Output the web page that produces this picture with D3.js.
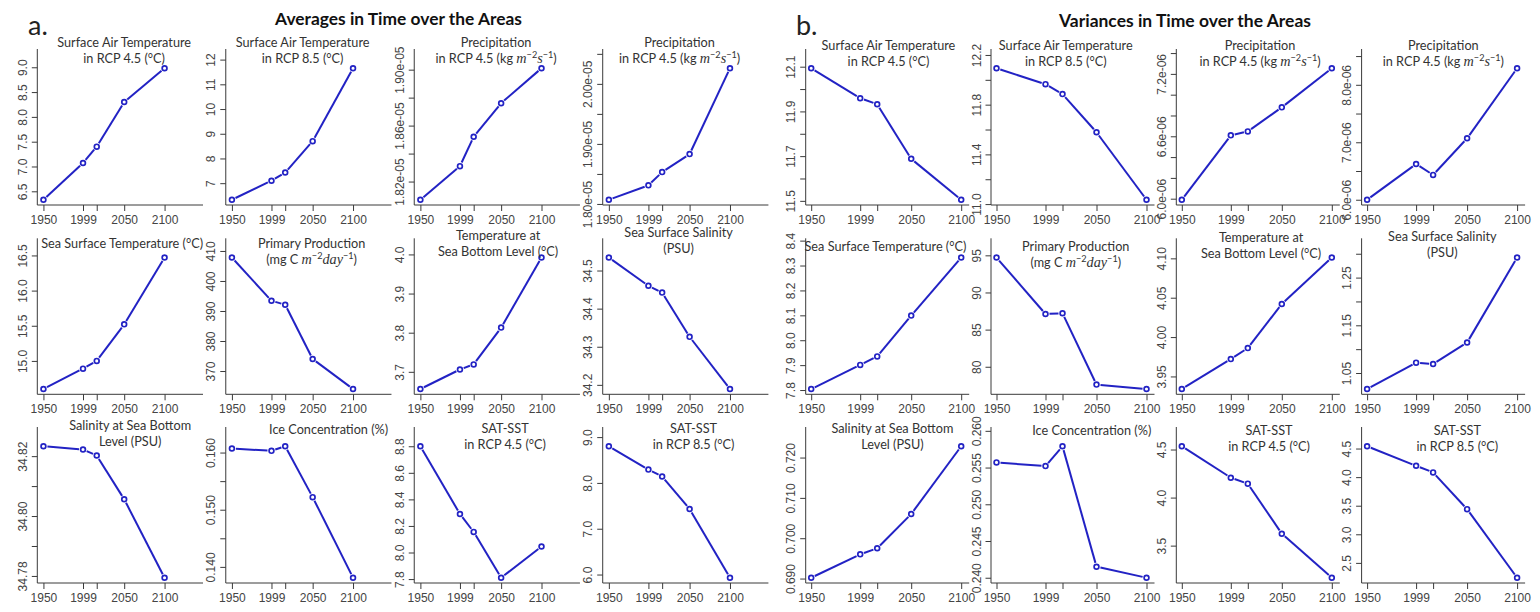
<!DOCTYPE html>
<html>
<head>
<meta charset="utf-8">
<script src="https://cdn.jsdelivr.net/npm/d3@7"></script>
<style>
  body { margin: 0; background: #fff; }
  svg { display: block; }
</style>
</head>
<body>
<svg id="fig" width="1540" height="612"></svg>
<script>
// ---- data ----
const years = [1950, 1999, 2016, 2050, 2100]
const yearLabels = ['1950', '1999', '', '2050', '2100']

const headers = ['Averages in Time over the Areas', 'Variances in Time over the Areas']
const panelLetters = ['a.', 'b.']

// $..$ = math italic, ^{..} = superscript
const panelTitles = [
  ['Surface Air Temperature', 'in RCP 4.5 (°C)'],
  ['Surface Air Temperature', 'in RCP 8.5 (°C)'],
  ['Precipitation', 'in RCP 4.5 (kg $m$^{−2}$s$^{−1})'],
  ['Precipitation', 'in RCP 4.5 (kg $m$^{−2}$s$^{−1})'],
  ['Sea Surface Temperature (°C)'],
  ['Primary Production', '(mg C $m$^{−2}$day$^{−1})'],
  ['Temperature at', 'Sea Bottom Level (°C)'],
  ['Sea Surface Salinity', '(PSU)'],
  ['Salinity at Sea Bottom', 'Level (PSU)'],
  ['Ice Concentration (%)'],
  ['SAT-SST', 'in RCP 4.5 (°C)'],
  ['SAT-SST', 'in RCP 8.5 (°C)']
]

const avgValues = [
  [6.33, 7.07, 7.40, 8.30, 8.98],
  [6.33, 7.10, 7.43, 8.70, 11.65],
  [1.807e-5, 1.831e-5, 1.852e-5, 1.876e-5, 1.901e-5],
  [1.807e-5, 1.831e-5, 1.853e-5, 1.883e-5, 2.026e-5],
  [14.60, 14.89, 15.00, 15.52, 16.47],
  [407.8, 393.4, 392.1, 374.0, 364.0],
  [3.656, 3.706, 3.719, 3.813, 3.992],
  [34.534, 34.460, 34.442, 34.326, 34.189],
  [34.8233, 34.8222, 34.8202, 34.8056, 34.7794],
  [0.1607, 0.1603, 0.1611, 0.1522, 0.1381],
  [8.80, 8.29, 8.155, 7.81, 8.045],
  [8.80, 8.29, 8.14, 7.43, 5.93]
]

const avgTicks = [
  [6.5, 7, 7.5, 8, 8.5, 9],
  [7, 8, 9, 10, 11, 12],
  [1.82e-5, 1.84e-5, 1.86e-5, 1.88e-5, 1.90e-5],
  [1.80e-5, 1.85e-5, 1.90e-5, 1.95e-5, 2.00e-5, 2.05e-5],
  [15, 15.5, 16, 16.5],
  [370, 380, 390, 400, 410],
  [3.7, 3.8, 3.9, 4.0],
  [34.2, 34.3, 34.4, 34.5],
  [34.78, 34.79, 34.80, 34.81, 34.82],
  [0.140, 0.145, 0.150, 0.155, 0.160],
  [7.8, 8.0, 8.2, 8.4, 8.6, 8.8],
  [6, 7, 8, 9]
]

const avgTickLabels = [
  ['6.5', '7.0', '7.5', '8.0', '8.5', '9.0'],
  ['7', '8', '9', '10', '11', '12'],
  ['1.82e-05', '', '1.86e-05', '', '1.90e-05'],
  ['1.80e-05', '', '1.90e-05', '', '2.00e-05', ''],
  ['15.0', '15.5', '16.0', '16.5'],
  ['370', '380', '390', '400', '410'],
  ['3.7', '3.8', '3.9', '4.0'],
  ['34.2', '34.3', '34.4', '34.5'],
  ['34.78', '', '34.80', '', '34.82'],
  ['0.140', '', '0.150', '', '0.160'],
  ['7.8', '8.0', '8.2', '8.4', '8.6', '8.8'],
  ['6.0', '7.0', '8.0', '9.0']
]

const varValues = [
  [12.093, 11.959, 11.932, 11.688, 11.505],
  [12.093, 11.965, 11.885, 11.578, 11.035],
  [5.99e-6, 6.609e-6, 6.647e-6, 6.878e-6, 7.254e-6],
  [6.0e-6, 6.622e-6, 6.432e-6, 7.069e-6, 8.288e-6],
  [7.804, 7.901, 7.935, 8.099, 8.332],
  [94.7, 87.1, 87.2, 77.6, 77.0],
  [3.934, 3.972, 3.986, 4.042, 4.101],
  [1.0164, 1.0717, 1.069, 1.1138, 1.292],
  [0.6902, 0.6960, 0.6975, 0.7060, 0.7228],
  [0.2557, 0.2552, 0.2579, 0.2415, 0.2400],
  [4.534, 4.207, 4.145, 3.624, 3.166],
  [4.54, 4.198, 4.083, 3.44, 2.24]
]

const varTicks = [
  [11.5, 11.6, 11.7, 11.8, 11.9, 12.0, 12.1],
  [11.0, 11.2, 11.4, 11.6, 11.8, 12.0, 12.2],
  [6.0e-6, 6.2e-6, 6.4e-6, 6.6e-6, 6.8e-6, 7.0e-6, 7.2e-6, 7.4e-6],
  [6.0e-6, 6.5e-6, 7.0e-6, 7.5e-6, 8.0e-6, 8.5e-6],
  [7.8, 7.9, 8.0, 8.1, 8.2, 8.3, 8.4],
  [80, 85, 90, 95],
  [3.95, 4.00, 4.05, 4.10],
  [1.05, 1.10, 1.15, 1.20, 1.25, 1.30],
  [0.690, 0.700, 0.710, 0.720],
  [0.240, 0.245, 0.250, 0.255, 0.260],
  [3.5, 4.0, 4.5],
  [2.5, 3.0, 3.5, 4.0, 4.5]
]

const varTickLabels = [
  ['11.5', '', '11.7', '', '11.9', '', '12.1'],
  ['11.0', '', '11.4', '', '11.8', '', '12.2'],
  ['6.0e-06', '', '', '6.6e-06', '', '', '7.2e-06', ''],
  ['6.0e-06', '', '7.0e-06', '', '8.0e-06', ''],
  ['7.8', '7.9', '8.0', '8.1', '8.2', '8.3', '8.4'],
  ['80', '85', '90', '95'],
  ['3.95', '4.00', '4.05', '4.10'],
  ['1.05', '', '1.15', '', '1.25', ''],
  ['0.690', '0.700', '0.710', '0.720'],
  ['0.240', '0.245', '0.250', '0.255', '0.260'],
  ['3.5', '4.0', '4.5'],
  ['2.5', '3.0', '3.5', '4.0', '4.5']
]

// ---- layout ----
const rowTop = [49, 238.3, 427]
const plotH = 156
const topExt = 14          // axis line runs this far above the padded data range
const gap = 4              // R type="b" gap between line and point
const lineGap = 16
// title offsets [dx from plot centre, baseline of first line from plot top]
const avgTitlePos = [[4, -2], [-6, -2], [-1, -2.5], [-6, -2.5], [2, 10], [3, 10],
  [1, 2], [-7, -1], [10, 3], [20, 6.5], [8, 6], [8, 6]]
const varTitlePos = [[1, 1], [-7, 1], [2, 1], [0, 1], [-2, 12.5], [3, 12.5],
  [3, 4], [-1, 2.5], [5, 5.5], [19, 8], [11, 7.5], [14, 7.5]]

const halves = [
  { x0: 37.3, step: 188.47, width: 165.7, xDomain: [1942.4, 2147.6],
    values: avgValues, ticks: avgTicks, labels: avgTickLabels, tpos: avgTitlePos,
    header: { x: 398.5, y: 25 }, letter: { x: 28, y: 35 } },
  { x0: 805.7, step: 185.3, width: 163.5, xDomain: [1944.5, 2108],
    values: varValues, ticks: varTicks, labels: varTickLabels, tpos: varTitlePos,
    header: { x: 1185, y: 27 }, letter: { x: 796, y: 35 } }
]

const LINE = '#2222c4'
const AXIS = '#3a3a3a'
const TICKTXT = '#444'
const TITLE_FONT = "Lato, 'Open Sans', sans-serif"
const MATH_FONT = "'Liberation Serif', 'DejaVu Serif', serif"
const AXIS_FONT = "'Liberation Sans', Arial, sans-serif"

const svg = d3.select('#fig')

function fitSize(text, weight, target) {
  const probe = svg.append('text')
    .attr('font-family', TITLE_FONT).attr('font-weight', weight)
    .attr('font-size', 20).text(text)
  const w = probe.node().getComputedTextLength()
  probe.remove()
  return 20 * target / w
}

const titleSize = fitSize('Surface Air Temperature', 400, 134)

function richText(sel, str) {
  const re = /\$([^$]+)\$|\^\{([^}]+)\}|[^$^]+/g
  let m, up = false
  while ((m = re.exec(str))) {
    const t = sel.append('tspan')
    if (m[2]) {
      t.attr('font-size', titleSize * 0.72).attr('dy', up ? null : -5).text(m[2])
      up = true
      continue
    }
    if (up) { t.attr('dy', 5); up = false }
    if (m[1]) {
      t.attr('font-family', MATH_FONT).attr('font-style', 'italic')
        .attr('font-size', titleSize * 1.12).text(m[1])
    } else {
      t.text(m[0])
    }
  }
}

function styleAxis(g) {
  g.attr('font-family', AXIS_FONT).attr('font-size', 12)
  g.select('.domain').remove()
  g.selectAll('line').attr('stroke', AXIS)
  g.selectAll('text').attr('fill', TICKTXT)
}

halves.forEach((h, hi) => {
  // headers
  svg.append('text')
    .attr('x', h.header.x).attr('y', h.header.y)
    .attr('text-anchor', 'middle')
    .attr('font-family', TITLE_FONT).attr('font-weight', 700)
    .attr('font-size', fitSize(headers[hi], 700, hi === 0 ? 247 : 252))
    .attr('fill', '#111')
    .text(headers[hi])

  svg.append('text')
    .attr('x', h.letter.x).attr('y', h.letter.y)
    .attr('font-family', TITLE_FONT)
    .attr('font-size', 27)
    .attr('fill', '#222')
    .text(panelLetters[hi])

  h.values.forEach((vals, p) => {
    const row = Math.floor(p / 4), col = p % 4
    const g = svg.append('g')
      .attr('transform', `translate(${h.x0 + col * h.step},${rowTop[row]})`)

    const x = d3.scaleLinear().domain(h.xDomain).range([0, h.width])
    const [lo, hi2] = d3.extent(vals)
    const pad = (hi2 - lo) * 0.04
    const y = d3.scaleLinear().domain([lo - pad, hi2 + pad]).range([plotH, topExt])

    // L-shaped box
    g.append('path')
      .attr('d', `M0,0V${plotH}H${h.width}`)
      .attr('fill', 'none').attr('stroke', AXIS).attr('stroke-width', 1)

    const xa = g.append('g')
      .attr('transform', `translate(0,${plotH})`)
      .call(d3.axisBottom(x)
        .tickValues(years)
        .tickFormat((d, i) => yearLabels[i])
        .tickSize(6).tickSizeOuter(0).tickPadding(4.5))
    styleAxis(xa)

    const ticks = h.ticks[p], labs = h.labels[p]
    const ya = g.append('g')
      .call(d3.axisLeft(y)
        .tickValues(ticks)
        .tickFormat((d, i) => labs[i])
        .tickSize(5.5).tickSizeOuter(0))
    styleAxis(ya)
    ya.selectAll('text')
      .attr('x', 0).attr('y', 0).attr('dy', null)
      .attr('text-anchor', 'middle')
      .attr('transform', 'translate(-10.5,0) rotate(-90)')

    // line with gaps around points
    const pts = vals.map((v, i) => [x(years[i]), y(v)])
    const segs = d3.pairs(pts).map(([a, b]) => {
      const dx = b[0] - a[0], dy = b[1] - a[1]
      const len = Math.hypot(dx, dy)
      const ux = dx / len, uy = dy / len
      return [a[0] + ux * gap, a[1] + uy * gap, b[0] - ux * gap, b[1] - uy * gap, len]
    }).filter(s => s[4] > gap * 2)

    g.append('g').selectAll('line')
      .data(segs).join('line')
      .attr('x1', d => d[0]).attr('y1', d => d[1])
      .attr('x2', d => d[2]).attr('y2', d => d[3])
      .attr('stroke', LINE).attr('stroke-width', 2)

    g.append('g').selectAll('circle')
      .data(vals).join('circle')
      .attr('cx', (d, i) => x(years[i]))
      .attr('cy', d => y(d))
      .attr('r', 2.4)
      .attr('fill', 'none')
      .attr('stroke', LINE).attr('stroke-width', 1.7)

    // title
    const [tdx, tdy] = h.tpos[p]
    panelTitles[p].forEach((ln, li) => {
      const t = g.append('text')
        .attr('x', h.width / 2 + tdx)
        .attr('y', tdy + li * lineGap)
        .attr('text-anchor', 'middle')
        .attr('font-family', TITLE_FONT)
        .attr('font-size', titleSize)
        .attr('fill', '#333')
      richText(t, ln)
    })
  })
})
</script>
</body>
</html>
